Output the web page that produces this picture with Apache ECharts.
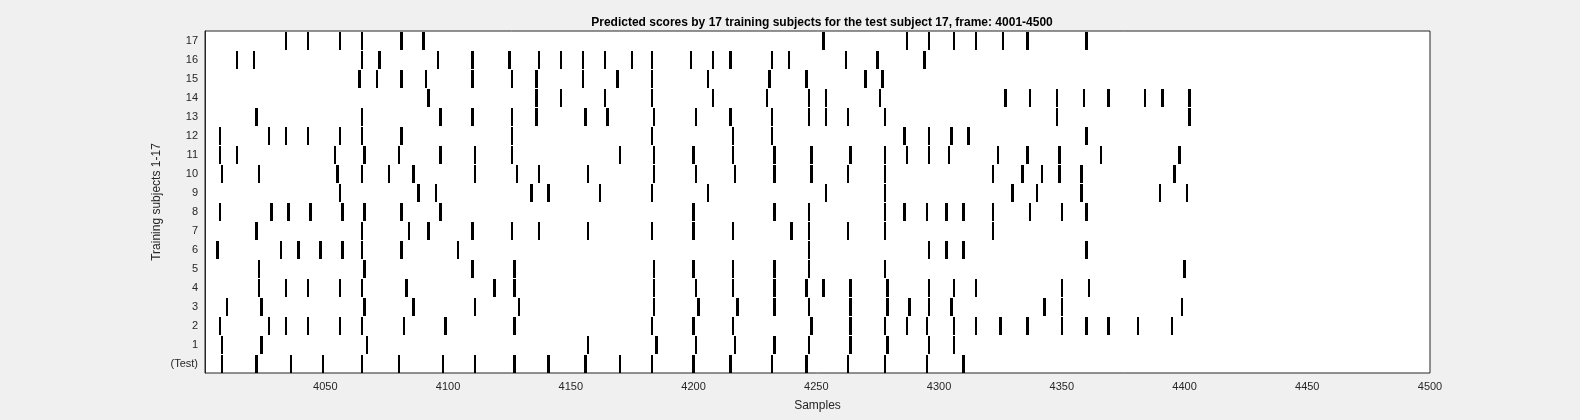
<!DOCTYPE html>
<html>
<head>
<meta charset="utf-8">
<script src="https://cdn.jsdelivr.net/npm/echarts@6/dist/echarts.min.js"></script>
<style>
  html, body { margin: 0; padding: 0; background: #f0f0f0; }
  #chart { width: 1580px; height: 420px; }
</style>
</head>
<body>
<div id="chart"></div>
<script>
// row labels, bottom to top
var rowLabels = ['(Test)', '1', '2', '3', '4', '5', '6', '7', '8', '9', '10', '11', '12', '13', '14', '15', '16', '17'];
var xTicks = [4050, 4100, 4150, 4200, 4250, 4300, 4350, 4400, 4450, 4500];

// sample positions of the predicted events for each row
var testEvents = [4008, 4022, 4036, 4049, 4065, 4080, 4098, 4111, 4127, 4141, 4156, 4170, 4183, 4200, 4215, 4232, 4246, 4263, 4278, 4295, 4310];
var subj1 = [4008, 4024, 4067, 4157, 4185, 4201, 4217, 4233, 4247, 4264, 4279, 4296, 4306];
var subj2 = [4007, 4027, 4034, 4043, 4056, 4065, 4082, 4099, 4127, 4183, 4200, 4216, 4248, 4264, 4278, 4287, 4295, 4306, 4315, 4325, 4336, 4350, 4360, 4369, 4381, 4395];
var subj3 = [4010, 4024, 4066, 4086, 4111, 4129, 4184, 4202, 4218, 4233, 4247, 4264, 4279, 4288, 4296, 4305, 4343, 4350, 4399];
var subj4 = [4023, 4034, 4043, 4056, 4065, 4083, 4119, 4127, 4184, 4201, 4216, 4233, 4246, 4253, 4264, 4279, 4296, 4306, 4315, 4350, 4361];
var subj5 = [4023, 4066, 4110, 4127, 4184, 4200, 4216, 4233, 4247, 4278, 4400];
var subj6 = [4006, 4032, 4039, 4048, 4057, 4065, 4081, 4104, 4247, 4296, 4303, 4310, 4360];
var subj7 = [4022, 4065, 4084, 4092, 4110, 4126, 4137, 4157, 4183, 4200, 4216, 4240, 4247, 4263, 4278, 4322];
var subj8 = [4007, 4028, 4035, 4044, 4057, 4066, 4081, 4097, 4200, 4233, 4247, 4278, 4286, 4295, 4303, 4310, 4322, 4337, 4350, 4360];
var subj9 = [4056, 4088, 4095, 4134, 4141, 4162, 4183, 4206, 4254, 4278, 4330, 4340, 4358, 4390, 4401];
var subj10 = [4008, 4023, 4055, 4065, 4076, 4086, 4111, 4128, 4137, 4157, 4184, 4201, 4217, 4233, 4248, 4263, 4278, 4322, 4334, 4342, 4349, 4358, 4396];
var subj11 = [4007, 4014, 4054, 4066, 4080, 4097, 4111, 4126, 4170, 4184, 4200, 4216, 4233, 4248, 4264, 4278, 4287, 4296, 4304, 4324, 4336, 4349, 4366, 4398];
var subj12 = [4007, 4027, 4034, 4043, 4056, 4065, 4081, 4126, 4183, 4216, 4232, 4286, 4296, 4305, 4312, 4360];
var subj13 = [4022, 4065, 4097, 4110, 4126, 4136, 4156, 4165, 4184, 4201, 4215, 4232, 4247, 4254, 4263, 4278, 4348, 4402];
var subj14 = [4092, 4136, 4146, 4164, 4183, 4208, 4230, 4247, 4254, 4276, 4327, 4337, 4348, 4359, 4369, 4384, 4391, 4402];
var subj15 = [4064, 4071, 4081, 4091, 4110, 4126, 4136, 4155, 4169, 4183, 4206, 4231, 4246, 4270, 4277];
var subj16 = [4014, 4021, 4065, 4072, 4096, 4110, 4125, 4137, 4146, 4155, 4164, 4175, 4183, 4199, 4208, 4215, 4232, 4239, 4262, 4275, 4294];
var subj17 = [4034, 4043, 4056, 4065, 4081, 4090, 4253, 4287, 4296, 4306, 4315, 4326, 4336, 4360];

var rows = [testEvents, subj1, subj2, subj3, subj4, subj5, subj6, subj7, subj8, subj9,
            subj10, subj11, subj12, subj13, subj14, subj15, subj16, subj17];

var points = [];
rows.forEach(function (r, i) {
    r.forEach(function (v) { points.push([v, i]); });
});

var axisColor = '#262626';
var myChart = echarts.init(document.getElementById('chart'));
var option = {
    backgroundColor: '#f0f0f0',
    animation: false,
    title: {
        text: 'Predicted scores by 17 training subjects for the test subject 17, frame: 4001-4500',
        left: 817,
        textAlign: 'center',
        top: 12,
        textStyle: { fontFamily: 'Liberation Sans', fontSize: 12, fontWeight: 'bold', color: '#000' }
    },
    grid: { left: 205, right: 150, top: 31, bottom: 47, show: true, backgroundColor: '#fff', borderColor: axisColor, borderWidth: 1 },
    xAxis: {
        type: 'value',
        min: 4001,
        max: 4500,
        name: 'Samples',
        nameLocation: 'middle',
        nameGap: 27,
        nameMoveOverlap: false,
        nameTextStyle: { fontFamily: 'Liberation Sans', fontSize: 12, color: axisColor },
        axisLine: { lineStyle: { color: axisColor } },
        axisTick: { inside: true, length: 5, customValues: xTicks, lineStyle: { color: axisColor } },
        axisLabel: {
            customValues: xTicks,
            formatter: function (v) { return String(v); },
            fontFamily: 'Liberation Sans', fontSize: 11, color: axisColor, margin: 8
        },
        splitLine: { show: false }
    },
    yAxis: {
        type: 'category',
        data: rowLabels,
        name: 'Training subjects 1-17',
        nameLocation: 'middle',
        nameGap: 42,
        nameMoveOverlap: false,
        nameTextStyle: { fontFamily: 'Liberation Sans', fontSize: 12, color: axisColor },
        axisLine: { lineStyle: { color: axisColor } },
        axisTick: { inside: true, length: 5, alignWithLabel: true, lineStyle: { color: axisColor } },
        axisLabel: { fontFamily: 'Liberation Sans', fontSize: 11, color: axisColor, margin: 7 },
        splitLine: { show: false }
    },
    series: [{
        type: 'custom',
        clip: true,
        data: points,
        renderItem: function (params, api) {
            var a = api.coord([api.value(0) - 0.5, api.value(1)]);
            var b = api.coord([api.value(0) + 0.5, api.value(1)]);
            var h = api.size([0, 1])[1];
            var x0 = Math.round(a[0]);
            var w = Math.max(2, Math.round(b[0]) - x0);
            return {
                type: 'rect',
                shape: { x: x0, y: Math.round(a[1] - h / 2) + 1, width: w, height: Math.round(h) - 1 },
                style: { fill: '#000' }
            };
        }
    }]
};
myChart.setOption(option);
</script>
</body>
</html>
